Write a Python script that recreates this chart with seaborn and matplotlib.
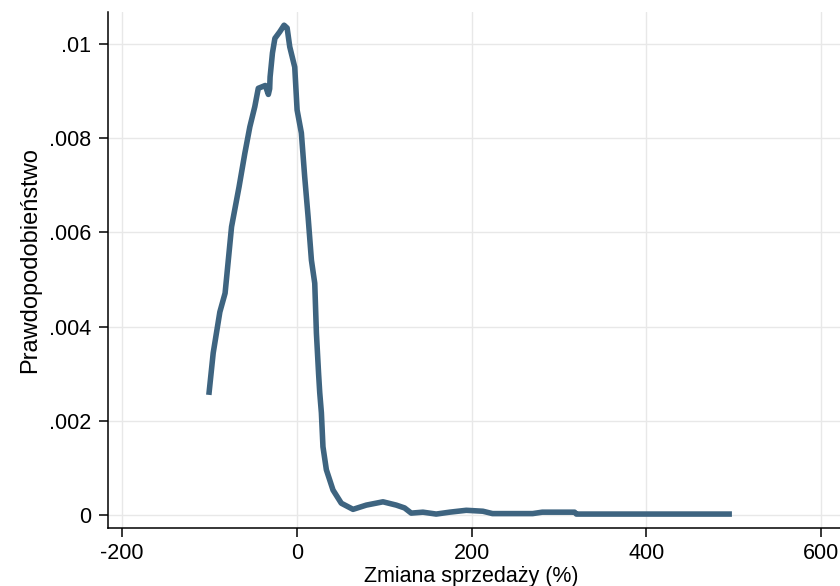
import matplotlib
matplotlib.use("Agg")
import matplotlib.pyplot as plt
import seaborn as sns
import pandas as pd

# Kernel density estimate of the change in sales (%)
sales_change = [-100.6, -95.6, -88.0, -82.0, -74.6, -66.0, -59.4, -53.7, -48.0,
                -44.0, -36.0, -32.5, -31.0, -30.5, -27.8, -25.0, -19.4, -14.5,
                -11.0, -8.0, -2.3, 0.4, 5.3, 9.1, 13.0, 16.8, 20.6, 22.5, 25.0,
                26.3, 28.2, 30.0, 33.9, 41.5, 51.0, 64.4, 79.6, 98.7, 113.9,
                123.4, 131.0, 144.4, 159.6, 175.0, 194.0, 213.0, 224.0, 270.0,
                281.0, 318.0, 320.0, 400.0, 498.0]
density = [0.00255, 0.00344, 0.00431, 0.00471, 0.00612, 0.00697, 0.00768, 0.00824, 0.00867,
           0.00906, 0.00912, 0.00893, 0.00905, 0.00930, 0.00981, 0.01012, 0.01026, 0.01040,
           0.01034, 0.00994, 0.00951, 0.00860, 0.00811, 0.00718, 0.00633, 0.00541, 0.00492,
           0.00386, 0.00300, 0.00260, 0.00217, 0.00145, 0.00096, 0.00053, 0.00025, 0.00012,
           0.00021, 0.00028, 0.00021, 0.00015, 0.00004, 0.00006, 0.00002, 0.00006, 0.00010,
           0.00008, 0.00003, 0.00003, 0.00006, 0.00006, 0.00002, 0.00002, 0.00002]

x_ticks = [-200, 0, 200, 400, 600]
x_tick_labels = ["-200", "0", "200", "400", "600"]
y_ticks = [0, 0.002, 0.004, 0.006, 0.008, 0.01]
y_tick_labels = ["0", ".002", ".004", ".006", ".008", ".01"]

df = pd.DataFrame({"x": sales_change, "y": density})

sns.set_style("white")
plt.rcParams["font.family"] = ["Liberation Sans", "DejaVu Sans"]

fig = plt.figure(figsize=(8.4, 5.86), dpi=100)
ax = fig.add_axes([108 / 840, 58 / 586, 1 - 108 / 840, 516 / 586])

sns.lineplot(data=df, x="x", y="y", ax=ax, color="#3e6480", linewidth=4.0,
             estimator=None, solid_capstyle="butt", solid_joinstyle="round", zorder=3)

ax.set_xlim(-216, 621.7)
ax.set_ylim(-0.000276, 0.01068)
ax.set_xticks(x_ticks)
ax.set_xticklabels(x_tick_labels)
ax.set_yticks(y_ticks)
ax.set_yticklabels(y_tick_labels)

ax.grid(True, color="#e8e8e8", linewidth=1.0, zorder=0)
ax.set_axisbelow(True)

for side in ("top", "right"):
    ax.spines[side].set_visible(False)
for side in ("left", "bottom"):
    ax.spines[side].set_color("black")
    ax.spines[side].set_linewidth(1.1)

ax.tick_params(axis="both", which="major", direction="out", length=6.5, width=1.1,
               color="black", labelsize=15.5, labelcolor="black",
               bottom=True, left=True)
ax.tick_params(axis="x", pad=4.0)
ax.tick_params(axis="y", pad=5.8)

ax.set_xlabel("Zmiana sprzedaży (%)", fontsize=15.5, color="black", va="baseline")
ax.xaxis.set_label_coords((471 - 108) / 732, (528 - 582) / 516)
ax.set_ylabel("Prawdopodobieństwo", fontsize=17, color="black", va="center")
ax.yaxis.set_label_coords((30 - 108) / 732, (528 - 260) / 516)

fig.savefig("out.png", dpi=100)
